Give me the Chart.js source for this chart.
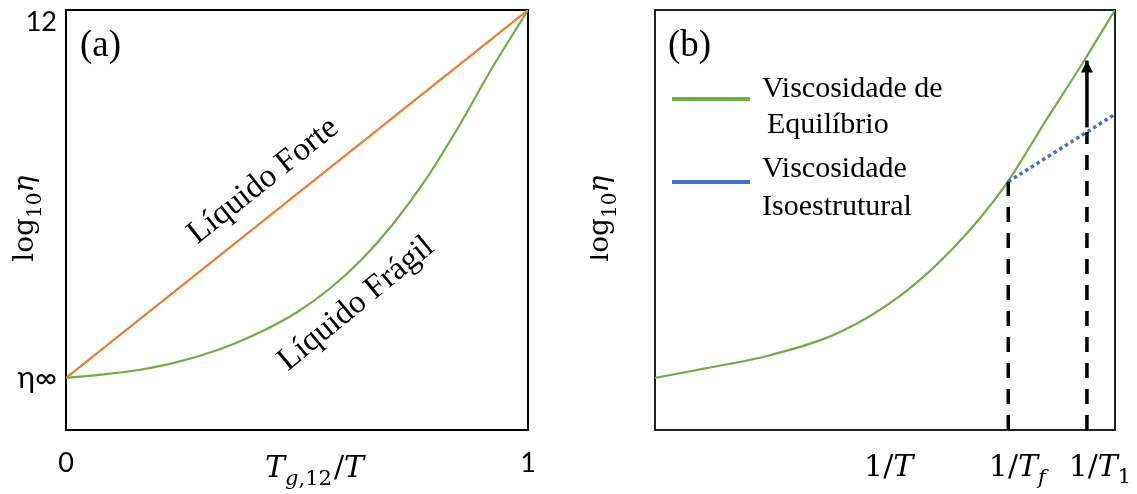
<!DOCTYPE html>
<html><head><meta charset="utf-8">
<script src="https://cdn.jsdelivr.net/npm/chart.js@4.4.1/dist/chart.umd.min.js"></script>
<style>
html,body{margin:0;padding:0;background:#fff;}
#wrap{position:relative;width:1137px;height:494px;overflow:hidden;}
#ca{position:absolute;left:0;top:0;}
#cb{position:absolute;left:590px;top:0;}
</style></head><body>
<div id="wrap">
<canvas id="ca" width="590" height="494"></canvas>
<canvas id="cb" width="547" height="494"></canvas>
</div>
<script>
// ---- (a) Angell plot: log10(viscosity) against Tg,12/T ----
const tgRatio   = [0, 0.07, 0.15, 0.22, 0.29, 0.36, 0.43, 0.5, 0.57, 0.64, 0.71, 0.78, 0.85, 0.92, 1];
const fragilLog = [0, 0.1, 0.24, 0.44, 0.72, 1.09, 1.56, 2.14, 2.9, 3.86, 5.06, 6.5, 8.2, 10.05, 12];
const forteRatio = [0, 1];
const forteLog   = [0, 12];
const yTickValues = [0, 12];
const yTickLabels = ['η∞', '12'];
const xTickValues = [0, 1];
const xTickLabels = ['0', '1'];

// ---- (b) equilibrium vs isostructural viscosity against 1/T ----
const invT          = [0, 0.11, 0.25, 0.4, 0.54, 0.65, 0.76, 0.85, 0.93, 1];
const equilibrioLog = [0, 0.31, 0.74, 1.48, 2.76, 4.26, 6.25, 8.4, 10.28, 12];
const isoInvT = [0.768, 1];
const isoLog  = [6.4, 8.6];
const invTf = 0.768;      // fictive temperature
const invT1 = 0.939;      // annealing temperature
const logAtTf    = 6.4;
const logIsoAtT1 = 8.02;
const logEqAtT1  = 10.35;

const yMin = -1.7, yMax = 12;

const GREEN = '#70AD47', ORANGE = '#ED7D31', BLUE = '#4472C4';
const SERIF = '"Liberation Serif", "Times New Roman", serif';
const MATH = '"DejaVu Serif", serif';
const SANS = 'Lato, "Noto Sans", sans-serif';

const pts = (xs, ys) => xs.map((x, i) => ({x, y: ys[i]}));

// draws a run of text pieces (main text, subscripts, italics)
function richWidth(ctx, parts) {
  let w = 0;
  for (const p of parts) { ctx.font = p.f; w += ctx.measureText(p.t).width + (p.gap || 0); }
  return w;
}
function drawRich(ctx, parts, x, y, align) {
  const w = richWidth(ctx, parts);
  let cx = align === 'center' ? x - w / 2 : (align === 'right' ? x - w : x);
  ctx.textAlign = 'left';
  ctx.textBaseline = 'alphabetic';
  for (const p of parts) {
    ctx.font = p.f;
    ctx.fillText(p.t, cx, y + (p.dy || 0));
    cx += ctx.measureText(p.t).width + (p.gap || 0);
  }
}
function logEta(size) {
  const sub = Math.round(size * 0.72);
  return [
    {t: 'log', f: `${size}px ${MATH}`},
    {t: '10', f: `${sub}px ${MATH}`, dy: size * 0.28},
    {t: 'η', f: `italic ${size}px ${MATH}`}
  ];
}

function frame(ctx, a, color) {
  ctx.save();
  ctx.strokeStyle = color;
  ctx.lineWidth = 2;
  ctx.strokeRect(a.left, a.top, a.right - a.left, a.bottom - a.top);
  ctx.restore();
}

const commonOptions = (padRight, yWidth, yTicks, xTicks) => ({
  responsive: false,
  animation: false,
  events: [],
  layout: {padding: {top: 10, right: padRight, left: 0, bottom: 0}},
  plugins: {legend: {display: false}, tooltip: {enabled: false}},
  scales: {
    x: {
      type: 'linear', min: 0, max: 1,
      grid: {display: false, drawTicks: false},
      border: {display: false},
      afterBuildTicks(s) { s.ticks = xTicks.values.map(v => ({value: v})); },
      afterFit(s) { s.height = 64; s.paddingLeft = 0; s.paddingRight = 0; s.paddingTop = 0; s.paddingBottom = 0; },
      ticks: {
        display: xTicks.values.length > 0,
        autoSkip: false, maxRotation: 0, padding: 17,
        color: '#000',
        font: {family: SANS, size: 27},
        callback: (v, i) => xTicks.labels[i]
      }
    },
    y: {
      type: 'linear', min: yMin, max: yMax,
      grid: {display: false, drawTicks: false},
      border: {display: false},
      afterBuildTicks(s) { s.ticks = yTicks.values.map(v => ({value: v})); },
      afterFit(s) { s.width = yWidth; s.paddingLeft = 0; s.paddingRight = 0; s.paddingTop = 0; s.paddingBottom = 0; },
      ticks: {
        display: yTicks.values.length > 0,
        autoSkip: false, padding: 9,
        color: '#000',
        font: (c) => ({family: SANS, size: c.tick && c.tick.value === yMax ? 27 : 30, lineHeight: 0.9}),
        // the top label sits just under the frame's upper edge
        callback: (v, i) => (v === yMax ? ['', yTicks.labels[i]] : yTicks.labels[i])
      }
    }
  }
});

// ---------- panel (a) ----------
const panelA = {
  id: 'panelA',
  beforeDatasetsDraw(chart) { frame(chart.ctx, chart.chartArea, '#000'); },
  afterDraw(chart) {
    const ctx = chart.ctx, a = chart.chartArea;
    const W = a.right - a.left, H = a.bottom - a.top;
    ctx.save();
    ctx.fillStyle = '#000';
    ctx.font = `37px ${SERIF}`;
    ctx.textAlign = 'left'; ctx.textBaseline = 'alphabetic';
    ctx.fillText('(a)', a.left + 14, a.top + 46);

    // curve names written along the curves
    ctx.font = `33px ${SERIF}`;
    ctx.textAlign = 'center'; ctx.textBaseline = 'middle';
    ctx.save();
    ctx.translate(a.left + 0.427 * W, a.top + 0.407 * H);
    ctx.rotate(-38.5 * Math.PI / 180);
    ctx.fillText('Líquido Forte', 0, 0);
    ctx.restore();
    ctx.save();
    ctx.translate(a.left + 0.628 * W, a.top + 0.70 * H);
    ctx.rotate(-39.5 * Math.PI / 180);
    ctx.fillText('Líquido Frágil', 0, 0);
    ctx.restore();

    // axis titles
    ctx.save();
    ctx.translate(a.left - 33, a.top + 0.497 * H);
    ctx.rotate(-Math.PI / 2);
    drawRich(ctx, logEta(28), 0, 0, 'center');
    ctx.restore();

    drawRich(ctx, [
      {t: 'T', f: `italic 30px ${MATH}`},
      {t: 'g', f: `italic 21px ${MATH}`, dy: 8},
      {t: ',12', f: `21px ${MATH}`, dy: 8, gap: 2},
      {t: '/', f: `30px ${MATH}`},
      {t: 'T', f: `italic 30px ${MATH}`}
    ], a.left + 0.538 * W, 477, 'center');
    ctx.restore();
  }
};

new Chart(document.getElementById('ca'), {
  type: 'line',
  data: {
    datasets: [
      {label: 'Líquido Frágil', data: pts(tgRatio, fragilLog), borderColor: GREEN, borderWidth: 2.2,
       pointRadius: 0, cubicInterpolationMode: 'monotone', order: 2},
      {label: 'Líquido Forte', data: pts(forteRatio, forteLog), borderColor: ORANGE, borderWidth: 2.2,
       pointRadius: 0, tension: 0, order: 1}
    ]
  },
  options: commonOptions(62, 66, {values: yTickValues, labels: yTickLabels}, {values: xTickValues, labels: xTickLabels}),
  plugins: [panelA]
});

// ---------- panel (b) ----------
const panelB = {
  id: 'panelB',
  beforeDatasetsDraw(chart) { frame(chart.ctx, chart.chartArea, '#222'); },
  afterDatasetsDraw(chart) {
    // arrow head at the top of the annealing arrow
    const ctx = chart.ctx;
    const meta = chart.getDatasetMeta(4);
    const tip = meta.data[meta.data.length - 1];
    ctx.save();
    ctx.fillStyle = '#000';
    ctx.beginPath();
    ctx.moveTo(tip.x, tip.y);
    ctx.lineTo(tip.x - 6, tip.y + 12);
    ctx.lineTo(tip.x + 6, tip.y + 12);
    ctx.closePath();
    ctx.fill();
    ctx.restore();
  },
  afterDraw(chart) {
    const ctx = chart.ctx, a = chart.chartArea;
    const H = a.bottom - a.top;
    const xs = chart.scales.x;
    ctx.save();
    ctx.fillStyle = '#000';
    ctx.font = `37px ${SERIF}`;
    ctx.textAlign = 'left'; ctx.textBaseline = 'alphabetic';
    ctx.fillText('(b)', a.left + 13, a.top + 46);

    // legend
    const legend = [
      {color: chart.data.datasets[0].borderColor, y: 89, lines: [['Viscosidade de', 0, 87], ['Equilíbrio', 5, 123]]},
      {color: chart.data.datasets[1].borderColor, y: 172, lines: [['Viscosidade', 0, 167], ['Isoestrutural', 0, 205]]}
    ];
    ctx.font = `30px ${SERIF}`;
    for (const item of legend) {
      ctx.strokeStyle = item.color;
      ctx.lineWidth = 4;
      ctx.beginPath();
      ctx.moveTo(a.left + 17, a.top + item.y);
      ctx.lineTo(a.left + 95, a.top + item.y);
      ctx.stroke();
      for (const [txt, dx, by] of item.lines) ctx.fillText(txt, a.left + 107 + dx, a.top + by);
    }

    // axis titles
    ctx.save();
    ctx.translate(a.left - 47, a.top + 0.497 * H);
    ctx.rotate(-Math.PI / 2);
    drawRich(ctx, logEta(28), 0, 0, 'center');
    ctx.restore();

    const base = 476;
    const inv = (sub) => {
      const parts = [
        {t: '1', f: `30px ${MATH}`},
        {t: '/', f: `30px ${MATH}`},
        {t: 'T', f: `italic 30px ${MATH}`}
      ];
      if (sub) parts.push(sub);
      return parts;
    };
    drawRich(ctx, inv(null), a.left + 0.508 * (a.right - a.left), base, 'center');
    drawRich(ctx, inv({t: 'f', f: `italic 21px ${MATH}`, dy: 8}), xs.getPixelForValue(invTf) + 9, base, 'center');
    drawRich(ctx, inv({t: '1', f: `21px ${MATH}`, dy: 7}), xs.getPixelForValue(invT1) + 13, base, 'center');
    ctx.restore();
  }
};

new Chart(document.getElementById('cb'), {
  type: 'line',
  data: {
    datasets: [
      {label: 'Viscosidade de Equilíbrio', data: pts(invT, equilibrioLog), borderColor: GREEN, borderWidth: 2.2,
       pointRadius: 0, cubicInterpolationMode: 'monotone', order: 5},
      {label: 'Viscosidade Isoestrutural', data: pts(isoInvT, isoLog), borderColor: BLUE, borderWidth: 3.5,
       borderDash: [3.5, 3.2], pointRadius: 0, tension: 0, order: 4},
      {label: 'Tf', data: [{x: invTf, y: yMin}, {x: invTf, y: logAtTf}], borderColor: '#000', borderWidth: 3.5,
       borderDash: [15, 11], pointRadius: 0, order: 3},
      {label: 'T1', data: [{x: invT1, y: yMin}, {x: invT1, y: logIsoAtT1}], borderColor: '#000', borderWidth: 3.5,
       borderDash: [15, 11], pointRadius: 0, order: 2},
      {label: 'recozimento', data: [{x: invT1, y: logIsoAtT1 + 0.15}, {x: invT1, y: logEqAtT1}], borderColor: '#000',
       borderWidth: 3.5, pointRadius: 0, order: 1}
    ]
  },
  options: commonOptions(22, 65, {values: [], labels: []}, {values: [], labels: []}),
  plugins: [panelB]
});
</script>
</body></html>
